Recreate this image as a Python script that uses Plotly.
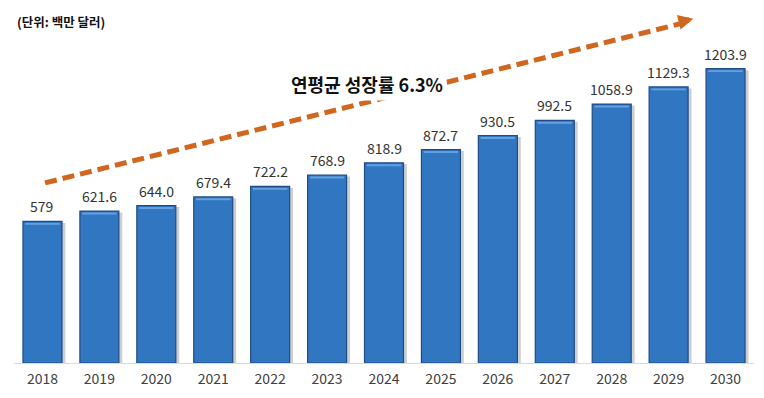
import plotly.graph_objects as go

years = ["2018", "2019", "2020", "2021", "2022", "2023", "2024",
         "2025", "2026", "2027", "2028", "2029", "2030"]
values = [579, 621.6, 644.0, 679.4, 722.2, 768.9, 818.9,
          872.7, 930.5, 992.5, 1058.9, 1129.3, 1203.9]
labels = ["579", "621.6", "644.0", "679.4", "722.2", "768.9", "818.9",
          "872.7", "930.5", "992.5", "1058.9", "1129.3", "1203.9"]
unit_text = "(단위: 백만 달러)"
growth_text = "연평균 성장률 6.3%"

FONT = "Noto Sans CJK KR"
W = 0.685
idx = list(range(len(years)))

fig = go.Figure()
# soft shadow
fig.add_trace(go.Bar(
    x=[i + 0.06 for i in idx], y=[v - 4 for v in values], base=[-2] * len(values),
    width=[W] * len(idx),
    marker=dict(color="rgba(60,60,60,0.25)", line=dict(width=0)),
    hoverinfo="skip", showlegend=False))
# main bars
fig.add_trace(go.Bar(
    x=idx, y=values, width=[W] * len(idx),
    marker=dict(color="#3176C0", line=dict(color="#1D4C86", width=1.2)),
    showlegend=False))
# top highlight
fig.add_trace(go.Bar(
    x=idx, y=[8] * len(values), base=[v - 14 for v in values],
    width=[W - 0.08] * len(idx),
    marker=dict(color="rgba(120,175,235,0.75)", line=dict(width=0)),
    hoverinfo="skip", showlegend=False))

annotations = []
for i, v, t in zip(idx, values, labels):
    annotations.append(dict(x=i, y=v, xref="x", yref="y", text=t, showarrow=False,
                            yanchor="bottom", yshift=3,
                            font=dict(family=FONT, size=14, color="#333333")))

annotations.append(dict(xref="paper", yref="paper", x=0.002, y=0.997,
                        xanchor="left", yanchor="middle", text="<b>" + unit_text + "</b>",
                        showarrow=False,
                        font=dict(family=FONT, size=12.5, color="#111111")))
annotations.append(dict(xref="paper", yref="paper", x=0.477, y=0.812,
                        xanchor="center", yanchor="middle",
                        text="<b>" + growth_text + "</b>", showarrow=False,
                        bgcolor="white", borderpad=3,
                        font=dict(family=FONT, size=18, color="#111111")))
# arrowhead
annotations.append(dict(xref="paper", yref="paper", x=0.918, y=1.004,
                        axref="pixel", ayref="pixel", ax=-12, ay=3,
                        showarrow=True, arrowhead=2, arrowsize=0.6,
                        arrowwidth=5, arrowcolor="#D0661F", text=""))

fig.update_layout(
    width=764, height=398,
    margin=dict(l=6, r=18, t=12, b=43),
    paper_bgcolor="white", plot_bgcolor="white",
    barmode="overlay",
    shapes=[dict(type="line", xref="paper", yref="paper",
                 x0=0.042, y0=0.525, x1=0.902, y1=0.99,
                 line=dict(color="#D0661F", width=5, dash="12px,6px"),
                 layer="below")],
    annotations=annotations,
    xaxis=dict(range=[-0.5, len(years) - 0.5], tickvals=idx, ticktext=years,
               showline=True, linecolor="#D9D9D9", linewidth=1,
               showgrid=False, ticks="", zeroline=False, ticklabelstandoff=3,
               tickfont=dict(family=FONT, size=14, color="#404040")),
    yaxis=dict(range=[0, 1403], visible=False, showgrid=False),
)

fig.write_html("out.html")
